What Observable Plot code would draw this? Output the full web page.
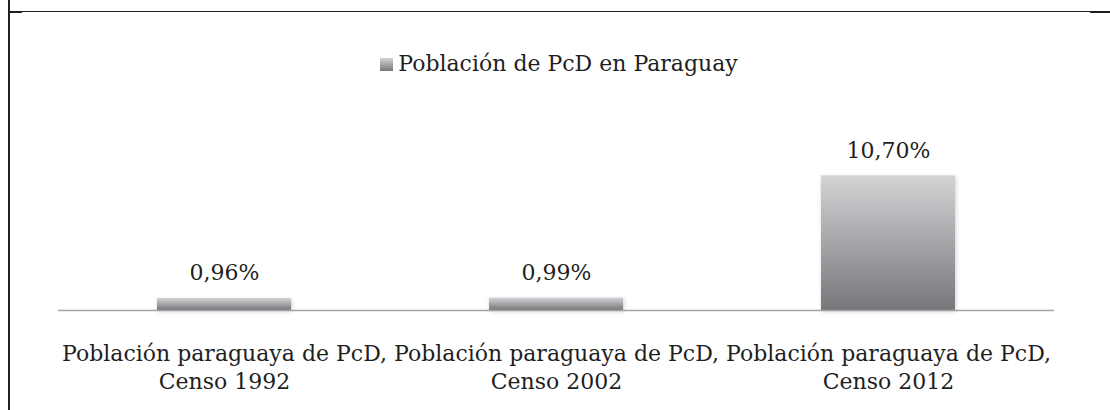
<!DOCTYPE html>
<html><head><meta charset="utf-8">
<script src="https://cdn.jsdelivr.net/npm/d3@7"></script>
<script src="https://cdn.jsdelivr.net/npm/@observablehq/plot@0.6"></script>
<style>
body{margin:0;background:#fff;}
#wrap{position:relative;width:1110px;height:410px;overflow:hidden;font-family:"DejaVu Serif",serif;color:#1f1f1f;background:#fff;}
.ln{position:absolute;background:#231f20;}
#legend{position:absolute;top:50px;left:4px;width:1110px;display:flex;justify-content:center;align-items:center;font-size:22px;line-height:28px;}
#legend .sw{display:inline-block;width:13px;height:13px;margin-right:5px;background:linear-gradient(#d3d4d6,#76777a);}
#chart{position:absolute;top:90px;left:0;}
</style>
</head><body>
<div id="wrap">
  <div class="ln" style="left:8px;top:0;width:2px;height:410px"></div>
  <div class="ln" style="left:9px;top:11px;width:1101px;height:1px"></div>
  <div class="ln" style="left:9px;top:11px;width:13px;height:2px"></div>
  <div class="ln" style="left:1090px;top:11px;width:20px;height:2px"></div>
  <div id="legend"><span class="sw"></span><span id="legtext"></span></div>
  <div id="chart"></div>
</div>
<script>
const seriesName = "Población de PcD en Paraguay";
const categories = [
  "Población paraguaya de PcD,\nCenso 1992",
  "Población paraguaya de PcD,\nCenso 2002",
  "Población paraguaya de PcD,\nCenso 2012"
];
const values = [0.96, 0.99, 10.70];
const valueLabels = ["0,96%", "0,99%", "10,70%"];

const data = categories.map((c, i) => ({cat: c, v: values[i], label: valueLabels[i]}));
document.getElementById("legtext").textContent = seriesName;

const chart = Plot.plot({
  width: 1110, height: 320,
  marginLeft: 58, marginRight: 56, marginTop: 69, marginBottom: 100,
  style: {fontFamily: "DejaVu Serif", fontSize: "22px", color: "#1f1f1f", background: "transparent", overflow: "visible"},
  x: {domain: categories, paddingInner: 0.596, paddingOuter: 0.298, label: null},
  y: {domain: [0, 12], axis: null},
  marks: [
    Plot.barY(data, {x: "cat", y: "v", fill: "url(#barGrad)"}),
    Plot.ruleY([0], {stroke: "#a3a3a3", strokeWidth: 1.5}),
    Plot.text(data, {x: "cat", y: "v", text: "label", lineAnchor: "bottom", dy: -18, fontSize: 22, fill: "#1f1f1f"}),
    Plot.axisX({tickSize: 0, tickPadding: 30, fontSize: 22, lineHeight: 1.3, fill: "#1f1f1f", label: null})
  ]
});
const ns = "http://www.w3.org/2000/svg";
const defs = document.createElementNS(ns, "defs");
defs.innerHTML = '<linearGradient id="barGrad" x1="0" y1="0" x2="0" y2="1"><stop offset="0" stop-color="#d3d4d6"/><stop offset="1" stop-color="#76777a"/></linearGradient>' +
  '<filter id="barShadow" x="-10%" y="-10%" width="120%" height="130%"><feDropShadow dx="1" dy="1.5" stdDeviation="2" flood-color="#000" flood-opacity="0.18"/></filter>';
chart.insertBefore(defs, chart.firstChild);
const barG = chart.querySelector('g[aria-label="bar"]');
if (barG) barG.setAttribute("filter", "url(#barShadow)");
document.getElementById("chart").appendChild(chart);
</script>
</body></html>
